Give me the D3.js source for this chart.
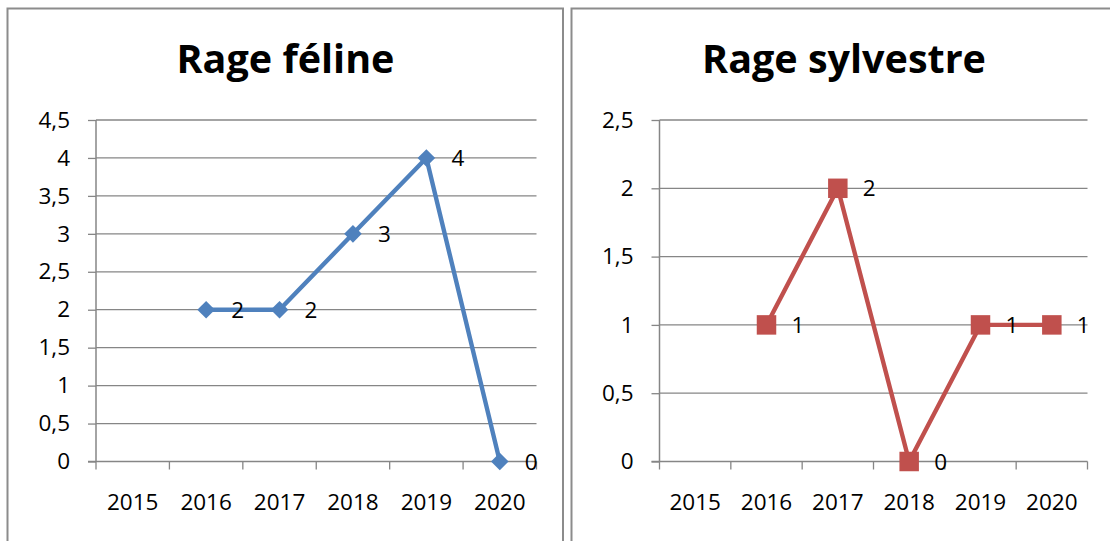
<!DOCTYPE html>
<html>
<head>
<meta charset="utf-8">
<script src="https://cdn.jsdelivr.net/npm/d3@7"></script>
<style>
  html, body { margin: 0; padding: 0; background: #ffffff; }
  svg { display: block; }
  text { font-family: "Open Sans", "Liberation Sans", sans-serif; fill: #000; }
</style>
</head>
<body>
<svg id="chart" width="1110" height="541"></svg>
<script>
// Years shown on both category axes
const years = ["2015", "2016", "2017", "2018", "2019", "2020"];

// Cases of feline rabies per year (no value for 2015)
const felineCases = [null, 2, 2, 3, 4, 0];

// Cases of sylvatic rabies per year (no value for 2015)
const sylvanCases = [null, 1, 2, 0, 1, 1];

// Y-axis tick values and their French-formatted labels
const felineTicks = [0, 0.5, 1, 1.5, 2, 2.5, 3, 3.5, 4, 4.5];
const felineTickLabels = ["0", "0,5", "1", "1,5", "2", "2,5", "3", "3,5", "4", "4,5"];
const sylvanTicks = [0, 0.5, 1, 1.5, 2, 2.5];
const sylvanTickLabels = ["0", "0,5", "1", "1,5", "2", "2,5"];

const titles = ["Rage féline", "Rage sylvestre"];

const svg = d3.select("#chart");
const gridColor = "#868686";
const labelSize = 22.5;

const panels = [
  {
    title: titles[0], values: felineCases, ticks: felineTicks, tickLabels: felineTickLabels,
    yMax: 4.5, color: "#4F81BD", marker: "diamond",
    frame: { x: 7.5, y: 8.5, w: 555.5, h: 545 }, titleX: 285.5,
    plot: { left: 96, right: 536.5, top: 120, bottom: 461.5 }
  },
  {
    title: titles[1], values: sylvanCases, ticks: sylvanTicks, tickLabels: sylvanTickLabels,
    yMax: 2.5, color: "#C0504D", marker: "square",
    frame: { x: 571.5, y: 8.5, w: 560, h: 545 }, titleX: 844,
    plot: { left: 659.5, right: 1087.5, top: 120, bottom: 461.5 }
  }
];

panels.forEach(p => {
  const g = svg.append("g");

  // chart frame
  g.append("rect")
    .attr("x", p.frame.x).attr("y", p.frame.y)
    .attr("width", p.frame.w).attr("height", p.frame.h)
    .attr("fill", "#fff").attr("stroke", "#8c8c8c").attr("stroke-width", 2);

  // title
  g.append("text")
    .attr("x", p.titleX)
    .attr("y", 73)
    .attr("text-anchor", "middle")
    .attr("font-size", 39.5)
    .attr("font-weight", "bold")
    .text(p.title);

  const x = d3.scaleBand().domain(years).range([p.plot.left, p.plot.right]).padding(0);
  const y = d3.scaleLinear().domain([0, p.yMax]).range([p.plot.bottom, p.plot.top]);

  // horizontal gridlines
  g.append("g").selectAll("line").data(p.ticks.filter(t => t > 0)).join("line")
    .attr("x1", p.plot.left).attr("x2", p.plot.right)
    .attr("y1", d => y(d)).attr("y2", d => y(d))
    .attr("stroke", gridColor).attr("stroke-width", 1.3);

  // y axis
  const yAxis = d3.axisLeft(y)
    .tickValues(p.ticks)
    .tickFormat((d, i) => p.tickLabels[i])
    .tickSize(8).tickPadding(18);
  const ya = g.append("g").attr("transform", `translate(${p.plot.left},0)`).call(yAxis);
  ya.select(".domain").attr("stroke", gridColor).attr("stroke-width", 1.5)
    .attr("d", `M0,${p.plot.top}V${p.plot.bottom}`);
  ya.selectAll(".tick line").attr("stroke", gridColor).attr("stroke-width", 1.3);
  ya.selectAll(".tick text").attr("font-size", labelSize).attr("fill", "#000")
    .attr("font-family", "'Open Sans', sans-serif");

  // x axis with ticks on category boundaries
  const xa = g.append("g").attr("transform", `translate(0,${p.plot.bottom})`);
  xa.append("line").attr("x1", p.plot.left - 8).attr("x2", p.plot.right)
    .attr("stroke", gridColor).attr("stroke-width", 1.5);
  const bounds = years.map(d => x(d)).concat([x(years[years.length - 1]) + x.bandwidth()]);
  xa.selectAll("line.bt").data(bounds).join("line").attr("class", "bt")
    .attr("x1", d => d).attr("x2", d => d).attr("y1", 0).attr("y2", 8)
    .attr("stroke", gridColor).attr("stroke-width", 1.3);
  xa.selectAll("text").data(years).join("text")
    .attr("x", d => x(d) + x.bandwidth() / 2)
    .attr("y", 48)
    .attr("text-anchor", "middle")
    .attr("font-size", labelSize)
    .text(d => d);

  // series
  const pts = years.map((yr, i) => ({ yr, v: p.values[i] })).filter(d => d.v !== null);
  const cx = d => x(d.yr) + x.bandwidth() / 2;

  const line = d3.line().x(cx).y(d => y(d.v));
  g.append("path").datum(pts)
    .attr("d", line).attr("fill", "none")
    .attr("stroke", p.color).attr("stroke-width", 4.4)
    .attr("stroke-linejoin", "round");

  const sym = p.marker === "diamond"
    ? d3.symbol().type(d3.symbolSquare).size(155)
    : d3.symbol().type(d3.symbolSquare).size(380);
  g.append("g").selectAll("path").data(pts).join("path")
    .attr("d", sym)
    .attr("transform", d => `translate(${cx(d)},${y(d.v)})` + (p.marker === "diamond" ? " rotate(45)" : ""))
    .attr("fill", p.color);

  // data labels
  g.append("g").selectAll("text").data(pts).join("text")
    .attr("x", d => cx(d) + 25)
    .attr("y", d => y(d.v))
    .attr("dy", "0.36em")
    .attr("font-size", labelSize)
    .text(d => d.v);
});
</script>
</body>
</html>
